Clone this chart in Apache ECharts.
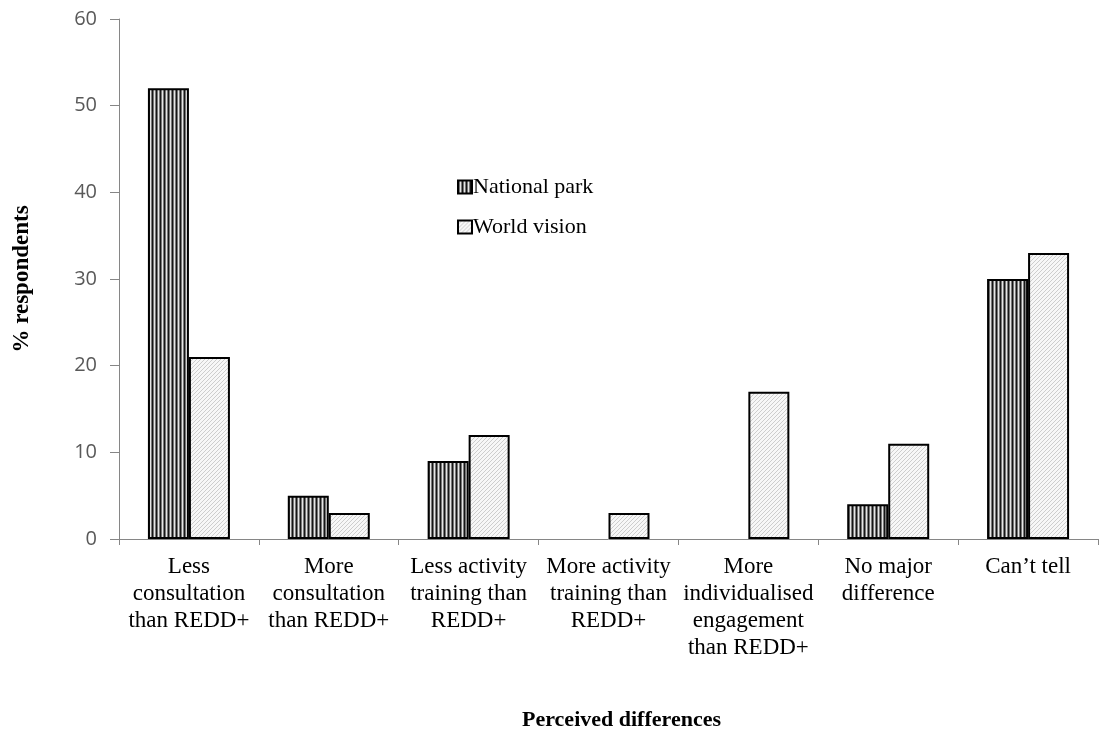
<!DOCTYPE html>
<html>
<head>
<meta charset="utf-8">
<script src="https://cdn.jsdelivr.net/npm/echarts@6/dist/echarts.min.js"></script>
<style>
html,body{margin:0;padding:0;background:#fff;}
#chart{width:1102px;height:736px;}
</style>
</head>
<body>
<div id="chart"></div>
<script>
const categories = [
  'Less\nconsultation\nthan REDD+',
  'More\nconsultation\nthan REDD+',
  'Less activity\ntraining than\nREDD+',
  'More activity\ntraining than\nREDD+',
  'More\nindividualised\nengagement\nthan REDD+',
  'No major\ndifference',
  'Can\u2019t tell'
];
const nationalPark = [52, 5, 9, 0, 0, 4, 30];
const worldVision = [21, 3, 12, 3, 17, 11, 33];
const yTicks = { min: 0, max: 60, interval: 10 };

function stripePattern() {
  const c = document.createElement('canvas');
  c.width = 4; c.height = 4;
  const g = c.getContext('2d');
  const cols = ['#161616', '#777777', '#e6e6e6', '#7a7a7a'];
  cols.forEach((col, i) => { g.fillStyle = col; g.fillRect(i, 0, 1, 4); });
  return c;
}
function hatchPattern() {
  const c = document.createElement('canvas');
  const s = 4;
  c.width = s; c.height = s;
  const g = c.getContext('2d');
  g.fillStyle = '#f7f7f7';
  g.fillRect(0, 0, s, s);
  g.strokeStyle = '#cdcdcd';
  g.lineWidth = 1;
  g.beginPath();
  g.moveTo(-1, s + 1); g.lineTo(s + 1, -1);
  g.moveTo(-1, 1); g.lineTo(1, -1);
  g.moveTo(s - 1, s + 1); g.lineTo(s + 1, s - 1);
  g.stroke();
  return c;
}

const npColor = { image: stripePattern(), repeat: 'repeat' };
const wvColor = { image: hatchPattern(), repeat: 'repeat' };

function toData(arr) {
  return arr.map(v => v === 0 ? { value: v, itemStyle: { borderWidth: 0, opacity: 0 } } : v);
}

const chart = echarts.init(document.getElementById('chart'), null, { renderer: 'canvas' });
chart.setOption({
  backgroundColor: '#ffffff',
  animation: false,
  grid: { left: 119, right: 4, top: 19, bottom: 195, containLabel: false },
  legend: {
    orient: 'vertical',
    left: 452,
    top: 171,
    itemWidth: 14,
    itemHeight: 13,
    itemGap: 18,
    icon: 'rect',
    textStyle: { fontFamily: 'Liberation Serif', fontSize: 22, color: '#000', padding: [0, 0, 0, -4] },
    data: ['National park', 'World vision']
  },
  xAxis: {
    type: 'category',
    data: categories,
    name: 'Perceived differences',
    nameLocation: 'middle',
    nameGap: 170,
    nameTextStyle: { fontFamily: 'Liberation Serif', fontWeight: 'bold', fontSize: 22, color: '#000', padding: [0, 0, 0, 26] },
    axisLine: { lineStyle: { color: '#868686', width: 1 } },
    axisTick: { show: true, alignWithLabel: false, length: 6, lineStyle: { color: '#868686' } },
    axisLabel: {
      interval: 0,
      margin: 14,
      fontFamily: 'Liberation Serif',
      fontSize: 23,
      lineHeight: 27,
      color: '#000',
      align: 'center'
    }
  },
  yAxis: {
    type: 'value',
    min: yTicks.min,
    max: yTicks.max,
    interval: yTicks.interval,
    name: '% respondents',
    nameLocation: 'middle',
    nameGap: 85,
    nameRotate: 90,
    nameTextStyle: { fontFamily: 'Liberation Serif', fontWeight: 'bold', fontSize: 23, color: '#000' },
    axisLine: { show: true, lineStyle: { color: '#868686', width: 1 } },
    axisTick: { show: true, inside: false, length: 9, lineStyle: { color: '#868686' } },
    splitLine: { show: false },
    axisLabel: { margin: 22, fontFamily: 'Open Sans', fontSize: 20, color: '#595959' }
  },
  series: [
    {
      name: 'National park',
      type: 'bar',
      data: toData(nationalPark),
      barWidth: 41,
      barGap: '0%',
      itemStyle: { color: npColor, borderColor: '#000', borderWidth: 2 }
    },
    {
      name: 'World vision',
      type: 'bar',
      data: toData(worldVision),
      barWidth: 41,
      barGap: '0%',
      itemStyle: { color: wvColor, borderColor: '#000', borderWidth: 2 }
    }
  ]
});
</script>
</body>
</html>
